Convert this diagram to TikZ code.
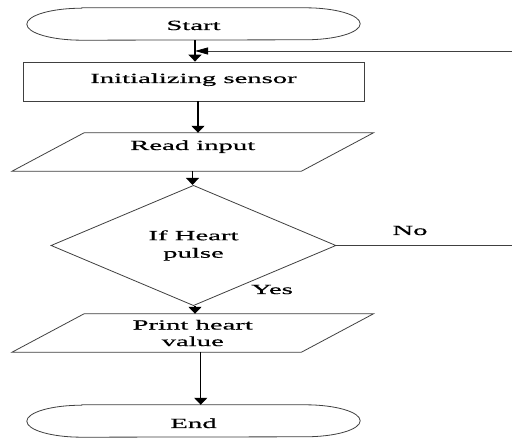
\documentclass[tikz,border=0pt]{standalone}
\usepackage{fontspec}
\setmainfont[FakeStretch=2.05,FakeBold=0.6]{Liberation Serif}
\usetikzlibrary{arrows.meta,shapes.geometric}
\begin{document}
\begin{tikzpicture}[x=1pt,y=-1pt,
  box/.style={inner sep=0pt, font=\fontsize{14}{17}\selectfont},
  outline/.style={draw=black!75, line width=0.8pt},
  arr/.style={draw=black, line width=1.4pt, -{Triangle[width=13pt,length=7pt]}},
  lbl/.style={inner sep=0pt, font=\fontsize{14}{17}\selectfont, anchor=base}]
\useasboundingbox (0,0) rectangle (512,438);
\fill[white] (0,0) rectangle (512,438);

% Start
\node[box, minimum width=333pt, minimum height=32pt, text height=12pt, text depth=0pt] (start) at (193.5,24) {Start};
\draw[outline] ([xshift=55pt]start.north west) -- ([xshift=-55pt]start.north east)
  arc[start angle=90, end angle=-90, x radius=55pt, y radius=16pt]
  -- ([xshift=55pt]start.south west)
  arc[start angle=270, end angle=90, x radius=55pt, y radius=16pt] -- cycle;

% Init
\node[box, outline, minimum width=341pt, minimum height=39pt, text height=10pt, text depth=7pt] (init) at (193.5,81.5) {Initializing sensor};

% Read input
\node[box, minimum width=289pt, minimum height=38pt, text height=10pt, text depth=14pt] (read) at (192.75,152) {Read input};
\draw[outline] ([xshift=36pt]read.north west) -- ([xshift=36pt]read.north east)
  -- ([xshift=-36pt]read.south east) -- ([xshift=-36pt]read.south west) -- cycle;

% Decision
\node[box, diamond, outline, minimum width=285pt, minimum height=81pt, align=center,
  font=\fontsize{14}{17.5}\selectfont] (dec) at (193.5,245.5) {If Heart\\pulse};

% Print
\node[box, minimum width=289pt, minimum height=38pt, align=center,
  font=\fontsize{14}{16.5}\selectfont] (print) at (192.75,333) {Print heart\\value};
\draw[outline] ([xshift=36pt]print.north west) -- ([xshift=36pt]print.north east)
  -- ([xshift=-36pt]print.south east) -- ([xshift=-36pt]print.south west) -- cycle;

% End
\node[box, minimum width=333pt, minimum height=32pt, text height=14pt, text depth=0pt] (end) at (193.5,421) {End};
\draw[outline] ([xshift=55pt]end.north west) -- ([xshift=-55pt]end.north east)
  arc[start angle=90, end angle=-90, x radius=55pt, y radius=16pt]
  -- ([xshift=55pt]end.south west)
  arc[start angle=270, end angle=90, x radius=55pt, y radius=16pt] -- cycle;

% Arrows
\draw[arr] ([xshift=1.5pt]start.south) -- ([xshift=1.5pt]init.north);
\draw[arr] ([xshift=4.5pt]init.south) -- ([xshift=5.25pt]read.north);
\draw[arr] ([xshift=-0.25pt]read.south) -- ([xshift=-1pt]dec.north);
\draw[arr] ([xshift=1.5pt]dec.south) -- ([xshift=2.25pt]print.north);
\draw[arr] ([xshift=8pt]print.south) -- ([xshift=7.25pt]end.north);

% Feedback and No branch
\coordinate (fbR) at (512,51);
\coordinate (fbL) at (195,51);
\draw[outline, -{Triangle[length=13pt,width=7pt,color=black]}] (fbR) -- (fbL);
\coordinate (noR) at (512,245.5);
\draw[outline] (dec.east) -- (noR);

\node[lbl] (no) at (410,235) {No};
\node[lbl] (yes) at (272,294) {Yes};
\end{tikzpicture}
\end{document}
